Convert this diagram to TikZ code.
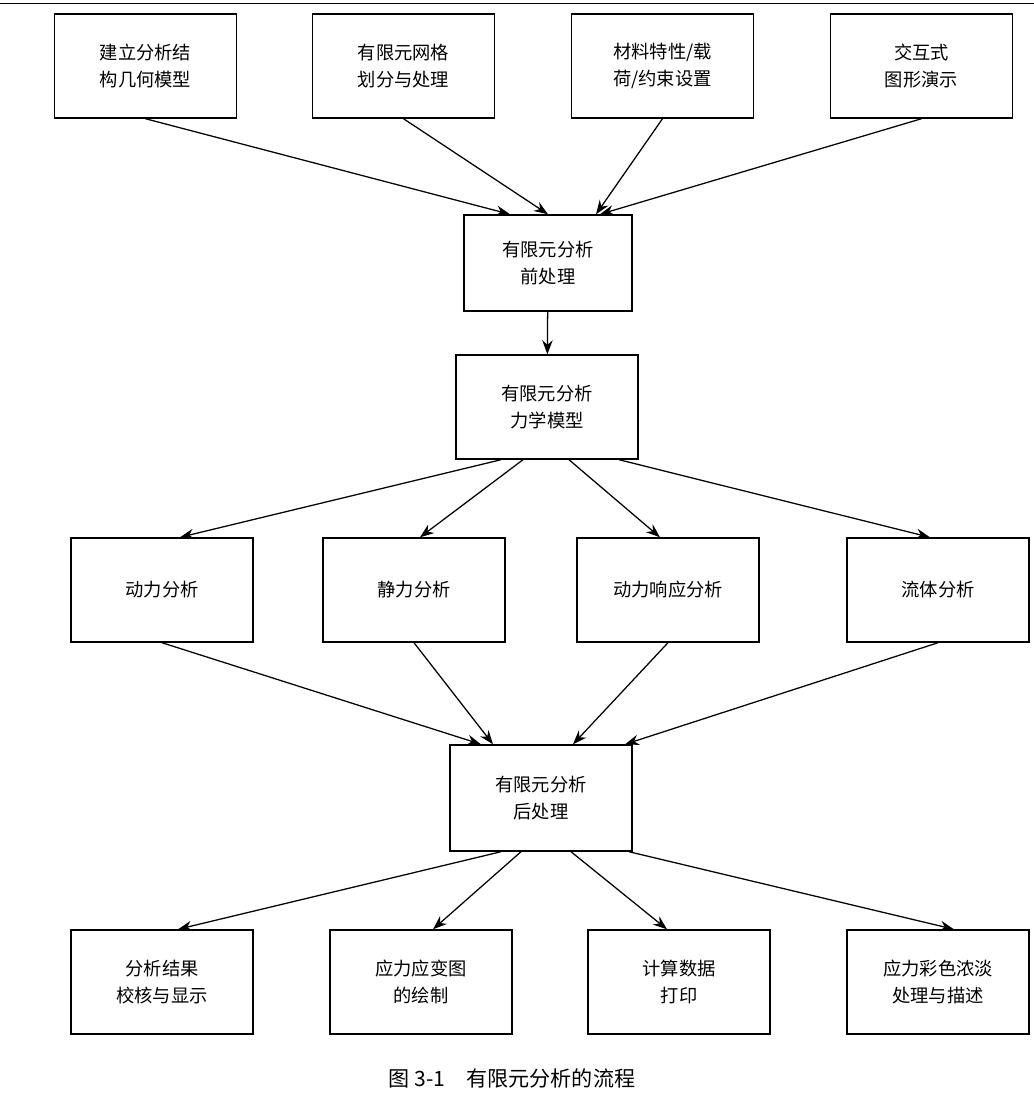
\documentclass[tikz,border=0pt]{standalone}
\usepackage{fontspec}
\setmainfont{Noto Sans CJK SC}
\usetikzlibrary{arrows.meta}
\begin{document}
\begin{tikzpicture}[x=0.025cm,y=-0.025cm,
  box/.style={draw,line width=1pt,minimum width=4.55cm,minimum height=2.6cm,align=center,font=\fontsize{13}{19}\selectfont},
  flow/.style={-{Stealth[length=3.5mm,width=2.6mm]},line width=0.9pt}]
        \useasboundingbox (0,0) rectangle (1034,1100);
        \draw[line width=0.6pt] (0,3) -- (1034,3);
        % top row
        \node[box] (geo) at (145.5,66) {建立分析结\\构几何模型};
        \node[box] (mesh) at (403.5,66) {有限元网格\\划分与处理};
        \node[box] (mat) at (662.5,66) {材料特性/载\\荷/约束设置};
        \node[box] (gui) at (921.5,66) {交互式\\图形演示};
        \node[box,minimum width=4.2cm,minimum height=2.4cm] (pre) at (548,263) {有限元分析\\前处理};
        \node[box,minimum width=4.55cm] (mech) at (547,407) {有限元分析\\力学模型};
        % analyses
        \node[box] (dyn) at (162,590) {动力分析};
        \node[box] (sta) at (414,590) {静力分析};
        \node[box] (resp) at (668,590) {动力响应分析};
        \node[box] (flu) at (938,590) {流体分析};
        \node[box,minimum height=2.65cm] (post) at (541,798) {有限元分析\\后处理};
        % results
        \node[box] (chk) at (162,982) {分析结果\\校核与显示};
        \node[box] (str) at (421,982) {应力应变图\\的绘制};
        \node[box] (prt) at (679,982) {计算数据\\打印};
        \node[box] (col) at (938,982) {应力彩色浓淡\\处理与描述};
        \node[font=\fontsize{15}{18}\selectfont] (cap) at (512,1078) {图 3-1\quad 有限元分析的流程};
        \draw[flow] (geo.south) -- ([xshift=-0.95cm]pre.north);
        \draw[flow] (mesh.south) -- (pre.north);
        \draw[flow] (mat.south) -- ([xshift=1.2cm]pre.north);
        \draw[flow] (gui.south) -- ([xshift=1.3cm]pre.north);
        \draw[flow] (pre) -- (mech);
        \draw[flow] ([xshift=-1.15cm]mech.south) -- ([xshift=0.45cm]dyn.north);
        \draw[flow] ([xshift=-0.6cm]mech.south) -- ([xshift=0.15cm]sta.north);
        \draw[flow] ([xshift=0.55cm]mech.south) -- ([xshift=-0.2cm]resp.north);
        \draw[flow] ([xshift=1.8cm]mech.south) -- ([xshift=-0.2cm]flu.north);
        \draw[flow] (dyn.south) -- ([xshift=-1.5cm]post.north);
        \draw[flow] (sta.south) -- ([xshift=-1.2cm]post.north);
        \draw[flow] (resp.south) -- ([xshift=0.8cm]post.north);
        \draw[flow] (flu.south) -- ([xshift=2.1cm]post.north);
        \draw[flow] ([xshift=-1cm]post.south) -- ([xshift=0.4cm]chk.north);
        \draw[flow] ([xshift=-0.5cm]post.south) -- ([xshift=0.3cm]str.north);
        \draw[flow] ([xshift=0.75cm]post.south) -- ([xshift=-0.3cm]prt.north);
        \draw[flow] ([xshift=2.2cm]post.south) -- ([xshift=0.4cm]col.north);
      \end{tikzpicture}
\end{document}
